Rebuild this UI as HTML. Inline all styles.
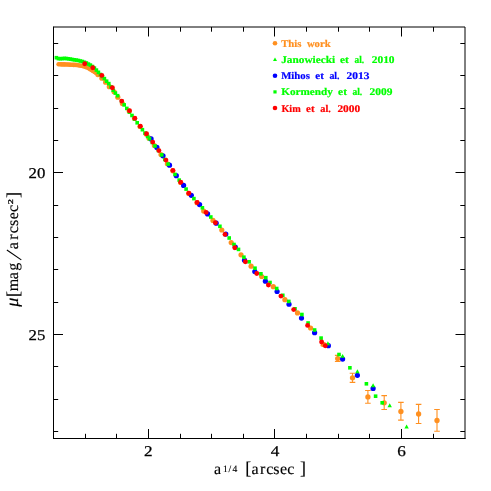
<!DOCTYPE html>
<html><head><meta charset="utf-8"><title>Surface brightness profile</title>
<style>html,body{margin:0;padding:0;background:#fff}body{width:491px;height:491px;overflow:hidden;font-family:"Liberation Sans",sans-serif}svg{display:block;will-change:transform;text-rendering:geometricPrecision}</style>
</head><body>
<svg width="491" height="491" viewBox="0 0 491 491">
<rect width="491" height="491" fill="#fff"/>
<g fill="#ff9020"><circle cx="58.6" cy="64.3" r="2.3"/><circle cx="60.1" cy="64.3" r="2.3"/><circle cx="61.6" cy="64.4" r="2.3"/><circle cx="63.1" cy="64.4" r="2.3"/><circle cx="64.6" cy="64.4" r="2.3"/><circle cx="66.1" cy="64.5" r="2.3"/><circle cx="67.6" cy="64.5" r="2.3"/><circle cx="69.1" cy="64.6" r="2.3"/><circle cx="70.6" cy="64.7" r="2.3"/><circle cx="72.1" cy="64.8" r="2.3"/><circle cx="73.6" cy="64.9" r="2.3"/><circle cx="75.1" cy="64.9" r="2.3"/><circle cx="76.6" cy="65.0" r="2.3"/><circle cx="78.1" cy="65.2" r="2.3"/><circle cx="79.6" cy="65.5" r="2.3"/><circle cx="81.1" cy="65.7" r="2.3"/><circle cx="82.6" cy="66.0" r="2.3"/><circle cx="84.1" cy="66.5" r="2.3"/><circle cx="85.6" cy="67.0" r="2.3"/><circle cx="87.1" cy="67.5" r="2.3"/><circle cx="88.6" cy="68.3" r="2.3"/><circle cx="90.1" cy="69.2" r="2.3"/><circle cx="91.6" cy="70.1" r="2.3"/><circle cx="93.1" cy="71.0" r="2.3"/><circle cx="94.6" cy="72.0" r="2.3"/><circle cx="96.1" cy="72.9" r="2.3"/><circle cx="97.9" cy="74.6" r="2.6"/><circle cx="101.9" cy="78.2" r="2.6"/><circle cx="105.6" cy="82.2" r="2.6"/><circle cx="109.3" cy="86.7" r="2.6"/><circle cx="114.1" cy="91.8" r="2.6"/><circle cx="117.8" cy="97.2" r="2.6"/><circle cx="122.4" cy="103.6" r="2.6"/><circle cx="129.2" cy="111.1" r="2.6"/><circle cx="134.5" cy="118.5" r="2.6"/><circle cx="140.0" cy="126.5" r="2.6"/><circle cx="146.1" cy="134.1" r="2.6"/><circle cx="149.0" cy="138.2" r="2.6"/><circle cx="154.4" cy="145.6" r="2.6"/><circle cx="161.0" cy="154.6" r="2.6"/><circle cx="167.4" cy="163.8" r="2.6"/><circle cx="172.8" cy="170.8" r="2.6"/><circle cx="180.6" cy="182.5" r="2.6"/><circle cx="188.7" cy="193.4" r="2.6"/><circle cx="197.0" cy="202.7" r="2.6"/><circle cx="203.7" cy="211.1" r="2.6"/><circle cx="213.0" cy="220.4" r="2.6"/><circle cx="221.8" cy="230.0" r="2.6"/><circle cx="231.2" cy="242.6" r="2.6"/><circle cx="241.0" cy="254.8" r="2.6"/><circle cx="251.1" cy="266.2" r="2.6"/><circle cx="261.7" cy="276.5" r="2.6"/><circle cx="273.3" cy="286.7" r="2.6"/><circle cx="284.9" cy="299.7" r="2.6"/><circle cx="297.5" cy="312.9" r="2.6"/><circle cx="310.6" cy="328.0" r="2.6"/></g>
<path d="M323.4 343.2V345.6M320.6 343.2h5.6M320.6 345.6h5.6" stroke="#ff9020" stroke-width="1.1" fill="none"/><circle cx="323.4" cy="344.4" r="2.65" fill="#ff9020"/><path d="M337.7 355.4V361.5M334.9 355.4h5.6M334.9 361.5h5.6" stroke="#ff9020" stroke-width="1.1" fill="none"/><circle cx="337.7" cy="358.6" r="2.65" fill="#ff9020"/><path d="M352.5 373.2V382.4M349.7 373.2h5.6M349.7 382.4h5.6" stroke="#ff9020" stroke-width="1.1" fill="none"/><circle cx="352.5" cy="377.8" r="2.65" fill="#ff9020"/><path d="M367.9 390.5V403.2M365.1 390.5h5.6M365.1 403.2h5.6" stroke="#ff9020" stroke-width="1.1" fill="none"/><circle cx="367.9" cy="396.9" r="2.65" fill="#ff9020"/><path d="M384.2 395.6V409.5M381.4 395.6h5.6M381.4 409.5h5.6" stroke="#ff9020" stroke-width="1.1" fill="none"/><circle cx="384.2" cy="402.8" r="2.65" fill="#ff9020"/><path d="M400.9 402.4V420.1M398.1 402.4h5.6M398.1 420.1h5.6" stroke="#ff9020" stroke-width="1.1" fill="none"/><circle cx="400.9" cy="411.5" r="2.65" fill="#ff9020"/><path d="M418.6 404.4V423.5M415.8 404.4h5.6M415.8 423.5h5.6" stroke="#ff9020" stroke-width="1.1" fill="none"/><circle cx="418.6" cy="414.0" r="2.65" fill="#ff9020"/><path d="M437.0 409.5V431.3M434.2 409.5h5.6M434.2 431.3h5.6" stroke="#ff9020" stroke-width="1.1" fill="none"/><circle cx="437.0" cy="420.5" r="2.65" fill="#ff9020"/>
<g fill="#0000ff"><circle cx="151.1" cy="138.9" r="2.6"/><circle cx="156.9" cy="147.4" r="2.6"/><circle cx="163.0" cy="155.8" r="2.6"/><circle cx="169.5" cy="165.2" r="2.6"/><circle cx="176.3" cy="175.7" r="2.6"/><circle cx="183.6" cy="185.4" r="2.6"/><circle cx="191.3" cy="195.3" r="2.6"/><circle cx="199.6" cy="204.6" r="2.6"/><circle cx="207.6" cy="213.9" r="2.6"/><circle cx="216.2" cy="223.2" r="2.6"/><circle cx="225.8" cy="234.1" r="2.6"/><circle cx="235.3" cy="247.1" r="2.6"/><circle cx="244.5" cy="260.2" r="2.6"/><circle cx="254.8" cy="271.6" r="2.6"/><circle cx="265.4" cy="281.2" r="2.6"/><circle cx="277.1" cy="291.5" r="2.6"/><circle cx="289.0" cy="304.2" r="2.6"/><circle cx="301.5" cy="318.1" r="2.6"/><circle cx="314.6" cy="332.7" r="2.6"/><circle cx="328.4" cy="345.7" r="2.6"/><circle cx="342.6" cy="359.1" r="2.6"/><circle cx="357.4" cy="375.3" r="2.6"/><circle cx="373.1" cy="388.4" r="2.6"/></g>
<g fill="#00ff00"><path d="M327.9 341.3l2.2 3.9h-4.4z"/><path d="M342.6 353.9l2.2 3.9h-4.4z"/><path d="M357.4 369.3l2.2 3.9h-4.4z"/><path d="M373.1 383.3l2.2 3.9h-4.4z"/><path d="M389.7 403.3l2.2 3.9h-4.4z"/><path d="M406.6 424.5l2.2 3.9h-4.4z"/></g>
<g fill="#00ff00"><rect x="54.6" y="55.9" width="3.6" height="3.6"/><rect x="56.6" y="56.8" width="3.6" height="3.6"/><rect x="58.6" y="56.9" width="3.6" height="3.6"/><rect x="60.6" y="56.8" width="3.6" height="3.6"/><rect x="62.6" y="56.6" width="3.6" height="3.6"/><rect x="64.6" y="56.7" width="3.6" height="3.6"/><rect x="66.6" y="57.0" width="3.6" height="3.6"/><rect x="68.6" y="57.3" width="3.6" height="3.6"/><rect x="70.6" y="57.7" width="3.6" height="3.6"/><rect x="72.6" y="58.0" width="3.6" height="3.6"/><rect x="74.6" y="58.3" width="3.6" height="3.6"/><rect x="76.6" y="58.7" width="3.6" height="3.6"/><rect x="78.6" y="59.2" width="3.6" height="3.6"/><rect x="80.6" y="59.7" width="3.6" height="3.6"/><rect x="82.6" y="60.5" width="3.6" height="3.6"/><rect x="84.6" y="61.2" width="3.6" height="3.6"/><rect x="86.6" y="62.3" width="3.6" height="3.6"/><rect x="88.6" y="63.3" width="3.6" height="3.6"/><rect x="90.6" y="64.7" width="3.6" height="3.6"/><rect x="92.6" y="66.3" width="3.6" height="3.6"/><rect x="94.6" y="68.3" width="3.6" height="3.6"/><rect x="96.6" y="70.5" width="3.6" height="3.6"/><rect x="98.6" y="72.7" width="3.6" height="3.6"/><rect x="100.6" y="74.7" width="3.6" height="3.6"/><rect x="102.6" y="76.8" width="3.6" height="3.6"/><rect x="104.8" y="79.4" width="3.6" height="3.6"/><rect x="107.0" y="81.8" width="3.6" height="3.6"/><rect x="109.2" y="85.1" width="3.6" height="3.6"/><rect x="111.4" y="88.4" width="3.6" height="3.6"/><rect x="113.6" y="91.3" width="3.6" height="3.6"/><rect x="115.8" y="93.9" width="3.6" height="3.6"/><rect x="119.8" y="99.4" width="3.6" height="3.6"/><rect x="122.4" y="103.1" width="3.6" height="3.6"/><rect x="125.0" y="106.6" width="3.6" height="3.6"/><rect x="127.6" y="110.3" width="3.6" height="3.6"/><rect x="130.2" y="113.7" width="3.6" height="3.6"/><rect x="132.8" y="117.3" width="3.6" height="3.6"/><rect x="135.4" y="121.0" width="3.6" height="3.6"/><rect x="138.0" y="124.5" width="3.6" height="3.6"/><rect x="140.6" y="127.9" width="3.6" height="3.6"/><rect x="143.2" y="131.3" width="3.6" height="3.6"/><rect x="145.8" y="134.6" width="3.6" height="3.6"/><rect x="147.7" y="137.0" width="3.6" height="3.6"/><rect x="150.5" y="140.7" width="3.6" height="3.6"/><rect x="153.2" y="144.2" width="3.6" height="3.6"/><rect x="156.6" y="148.7" width="3.6" height="3.6"/><rect x="159.9" y="153.1" width="3.6" height="3.6"/><rect x="163.1" y="157.7" width="3.6" height="3.6"/><rect x="166.3" y="162.3" width="3.6" height="3.6"/><rect x="173.2" y="172.6" width="3.6" height="3.6"/><rect x="177.4" y="178.3" width="3.6" height="3.6"/><rect x="184.3" y="187.3" width="3.6" height="3.6"/><rect x="192.1" y="196.8" width="3.6" height="3.6"/><rect x="200.6" y="206.0" width="3.6" height="3.6"/><rect x="209.0" y="215.2" width="3.6" height="3.6"/><rect x="218.1" y="224.5" width="3.6" height="3.6"/><rect x="227.4" y="236.2" width="3.6" height="3.6"/><rect x="232.2" y="242.7" width="3.6" height="3.6"/><rect x="236.7" y="247.6" width="3.6" height="3.6"/><rect x="242.1" y="255.4" width="3.6" height="3.6"/><rect x="247.3" y="260.0" width="3.6" height="3.6"/><rect x="253.2" y="266.4" width="3.6" height="3.6"/><rect x="259.1" y="272.0" width="3.6" height="3.6"/><rect x="264.0" y="275.9" width="3.6" height="3.6"/><rect x="268.2" y="280.7" width="3.6" height="3.6"/><rect x="274.9" y="286.7" width="3.6" height="3.6"/><rect x="281.0" y="293.5" width="3.6" height="3.6"/><rect x="287.0" y="299.6" width="3.6" height="3.6"/><rect x="293.2" y="307.0" width="3.6" height="3.6"/><rect x="300.1" y="312.7" width="3.6" height="3.6"/><rect x="306.3" y="321.2" width="3.6" height="3.6"/><rect x="312.8" y="328.2" width="3.6" height="3.6"/><rect x="319.3" y="336.3" width="3.6" height="3.6"/><rect x="337.2" y="352.7" width="3.6" height="3.6"/><rect x="348.1" y="366.0" width="3.6" height="3.6"/><rect x="364.6" y="382.0" width="3.6" height="3.6"/><rect x="373.8" y="394.4" width="3.6" height="3.6"/><rect x="380.4" y="401.0" width="3.6" height="3.6"/></g>
<g fill="#ff0000"><circle cx="84.7" cy="63.8" r="2.45"/><circle cx="92.8" cy="67.7" r="2.45"/><circle cx="101.8" cy="75.4" r="2.45"/><circle cx="112.4" cy="87.7" r="2.45"/><circle cx="121.7" cy="101.1" r="2.45"/><circle cx="129.5" cy="110.8" r="2.45"/><circle cx="134.8" cy="118.2" r="2.45"/><circle cx="140.3" cy="126.2" r="2.45"/><circle cx="146.5" cy="133.7" r="2.45"/><circle cx="152.7" cy="142.1" r="2.45"/><circle cx="158.9" cy="150.6" r="2.45"/><circle cx="165.9" cy="160.1" r="2.45"/><circle cx="172.9" cy="170.4" r="2.45"/><circle cx="180.7" cy="182.3" r="2.45"/><circle cx="188.8" cy="193.2" r="2.45"/><circle cx="197.1" cy="202.5" r="2.45"/><circle cx="206.1" cy="212.4" r="2.45"/><circle cx="215.4" cy="222.8" r="2.45"/><circle cx="225.0" cy="234.4" r="2.45"/><circle cx="234.8" cy="247.8" r="2.45"/><circle cx="245.4" cy="261.8" r="2.45"/><circle cx="256.8" cy="273.5" r="2.45"/><circle cx="268.4" cy="285.0" r="2.45"/><circle cx="280.9" cy="296.1" r="2.45"/><circle cx="293.7" cy="309.6" r="2.45"/><circle cx="307.6" cy="325.4" r="2.45"/><circle cx="321.6" cy="342.0" r="2.45"/><circle cx="325.3" cy="345.8" r="2.45"/></g>
<path d="M53.5 26.5V438.5M53.0 438.5H465.5" stroke="#000" stroke-width="1" fill="none"/>
<path d="M53.5 27.0H465.0V439.0" stroke="#000" stroke-width="1" fill="none"/>
<path d="M85.5 438.5v-4.7M85.5 27.0v4.7M116.5 438.5v-4.7M116.5 27.0v4.7M148.5 438.5v-9.5M148.5 27.0v9.5M180.5 438.5v-4.7M180.5 27.0v4.7M211.5 438.5v-4.7M211.5 27.0v4.7M243.5 438.5v-4.7M243.5 27.0v4.7M274.5 438.5v-9.5M274.5 27.0v9.5M306.5 438.5v-4.7M306.5 27.0v4.7M338.5 438.5v-4.7M338.5 27.0v4.7M369.5 438.5v-4.7M369.5 27.0v4.7M401.5 438.5v-9.5M401.5 27.0v9.5M433.5 438.5v-4.7M433.5 27.0v4.7M53.5 43.5h4.7M465.0 43.5h-4.7M53.5 75.5h4.7M465.0 75.5h-4.7M53.5 108.5h4.7M465.0 108.5h-4.7M53.5 140.5h4.7M465.0 140.5h-4.7M53.5 172.5h9.5M465.0 172.5h-9.5M53.5 205.5h4.7M465.0 205.5h-4.7M53.5 237.5h4.7M465.0 237.5h-4.7M53.5 269.5h4.7M465.0 269.5h-4.7M53.5 302.5h4.7M465.0 302.5h-4.7M53.5 334.5h9.5M465.0 334.5h-9.5M53.5 366.5h4.7M465.0 366.5h-4.7M53.5 399.5h4.7M465.0 399.5h-4.7M53.5 431.5h4.7M465.0 431.5h-4.7" stroke="#000" stroke-width="1" fill="none"/>
<text x="148.4" y="455.9" font-size="15" text-anchor="middle" textLength="8.6" lengthAdjust="spacingAndGlyphs" stroke="#000" stroke-width="0.25" font-family="Liberation Serif, serif">2</text>
<text x="275.0" y="455.9" font-size="15" text-anchor="middle" textLength="8.6" lengthAdjust="spacingAndGlyphs" stroke="#000" stroke-width="0.25" font-family="Liberation Serif, serif">4</text>
<text x="401.5" y="455.9" font-size="15" text-anchor="middle" textLength="8.6" lengthAdjust="spacingAndGlyphs" stroke="#000" stroke-width="0.25" font-family="Liberation Serif, serif">6</text>
<text x="45.3" y="177.8" font-size="15" text-anchor="end" textLength="16.8" lengthAdjust="spacingAndGlyphs" stroke="#000" stroke-width="0.25" font-family="Liberation Serif, serif">20</text>
<text x="45.3" y="339.6" font-size="15" text-anchor="end" textLength="16.8" lengthAdjust="spacingAndGlyphs" stroke="#000" stroke-width="0.25" font-family="Liberation Serif, serif">25</text>
<text x="214.00" y="473.9" font-size="16" stroke="#000" stroke-width="0.15" font-family="Liberation Serif, serif" >a</text>
<text x="251.40 259.90 266.20 273.30 280.10 287.20" y="473.9" font-size="16" stroke="#000" stroke-width="0.15" font-family="Liberation Serif, serif" >arcsec</text>
<text x="245.20 299.90" y="474.3" font-size="18" stroke="#000" stroke-width="0.15" font-family="Liberation Serif, serif" >[]</text>
<text x="223.10 228.60 232.60" y="472.4" font-size="9.6" stroke="#000" stroke-width="0.15" font-family="Liberation Serif, serif" stroke-width="0.3">1/4</text>
<g transform="translate(18.3 306.8) rotate(-90)"><text x="0" y="0" font-size="18" font-style="italic" stroke="#000" stroke-width="0.15" font-family="Liberation Serif, serif">μ</text><text x="9.90 108.80" y="0.4" font-size="18" stroke="#000" stroke-width="0.15" font-family="Liberation Serif, serif" >[]</text><text x="15.55 27.60 36.10 57.60 67.05 73.50 80.80 87.60 94.90" y="0" font-size="16" stroke="#000" stroke-width="0.15" font-family="Liberation Serif, serif" >magarcsec</text><path d="M46.9 3.0L56.8 -11.4" stroke="#000" stroke-width="1.1" fill="none"/><text x="102.5" y="-5.6" font-size="7.2" textLength="5.2" lengthAdjust="spacingAndGlyphs" stroke="#000" stroke-width="0.3" font-family="Liberation Serif, serif">2</text></g>
<circle cx="275" cy="43.2" r="2.3" fill="#ff9020"/>
<text x="281.2" y="46.7" font-size="10.2" font-weight="bold" fill="#ff9020" stroke="#ff9020" stroke-width="0.2" textLength="20.2" lengthAdjust="spacingAndGlyphs" font-family="Liberation Serif, serif">This</text>
<text x="306.9" y="46.7" font-size="10.2" font-weight="bold" fill="#ff9020" stroke="#ff9020" stroke-width="0.2" textLength="23.7" lengthAdjust="spacingAndGlyphs" font-family="Liberation Serif, serif">work</text>
<path d="M275 57.4l2 3.7h-4z" fill="#00ff00"/>
<text x="281.2" y="63.0" font-size="10.2" font-weight="bold" fill="#00ff00" stroke="#00ff00" stroke-width="0.2" textLength="53.9" lengthAdjust="spacingAndGlyphs" font-family="Liberation Serif, serif">Janowiecki</text>
<text x="340.0" y="63.0" font-size="10.2" font-weight="bold" fill="#00ff00" stroke="#00ff00" stroke-width="0.2" textLength="8.8" lengthAdjust="spacingAndGlyphs" font-family="Liberation Serif, serif">et</text>
<text x="354.5" y="63.0" font-size="10.2" font-weight="bold" fill="#00ff00" stroke="#00ff00" stroke-width="0.2" textLength="9.7" lengthAdjust="spacingAndGlyphs" font-family="Liberation Serif, serif">al.</text>
<text x="371.7" y="63.0" font-size="10.2" font-weight="bold" fill="#00ff00" stroke="#00ff00" stroke-width="0.2" textLength="22.9" lengthAdjust="spacingAndGlyphs" font-family="Liberation Serif, serif">2010</text>
<circle cx="275" cy="75.8" r="2.3" fill="#0000ff"/>
<text x="281.2" y="79.3" font-size="10.2" font-weight="bold" fill="#0000ff" stroke="#0000ff" stroke-width="0.2" textLength="28.7" lengthAdjust="spacingAndGlyphs" font-family="Liberation Serif, serif">Mihos</text>
<text x="315.3" y="79.3" font-size="10.2" font-weight="bold" fill="#0000ff" stroke="#0000ff" stroke-width="0.2" textLength="8.6" lengthAdjust="spacingAndGlyphs" font-family="Liberation Serif, serif">et</text>
<text x="329.4" y="79.3" font-size="10.2" font-weight="bold" fill="#0000ff" stroke="#0000ff" stroke-width="0.2" textLength="10.2" lengthAdjust="spacingAndGlyphs" font-family="Liberation Serif, serif">al.</text>
<text x="346.6" y="79.3" font-size="10.2" font-weight="bold" fill="#0000ff" stroke="#0000ff" stroke-width="0.2" textLength="22.9" lengthAdjust="spacingAndGlyphs" font-family="Liberation Serif, serif">2013</text>
<rect x="273.4" y="90.30000000000001" width="3.2" height="3.2" fill="#00ff00"/>
<text x="281.2" y="95.4" font-size="10.2" font-weight="bold" fill="#00ff00" stroke="#00ff00" stroke-width="0.2" textLength="51.7" lengthAdjust="spacingAndGlyphs" font-family="Liberation Serif, serif">Kormendy</text>
<text x="338.1" y="95.4" font-size="10.2" font-weight="bold" fill="#00ff00" stroke="#00ff00" stroke-width="0.2" textLength="8.9" lengthAdjust="spacingAndGlyphs" font-family="Liberation Serif, serif">et</text>
<text x="352.4" y="95.4" font-size="10.2" font-weight="bold" fill="#00ff00" stroke="#00ff00" stroke-width="0.2" textLength="9.9" lengthAdjust="spacingAndGlyphs" font-family="Liberation Serif, serif">al.</text>
<text x="369.6" y="95.4" font-size="10.2" font-weight="bold" fill="#00ff00" stroke="#00ff00" stroke-width="0.2" textLength="22.9" lengthAdjust="spacingAndGlyphs" font-family="Liberation Serif, serif">2009</text>
<circle cx="275" cy="108.0" r="2.3" fill="#ff0000"/>
<text x="281.4" y="111.5" font-size="10.2" font-weight="bold" fill="#ff0000" stroke="#ff0000" stroke-width="0.2" textLength="19.3" lengthAdjust="spacingAndGlyphs" font-family="Liberation Serif, serif">Kim</text>
<text x="306.1" y="111.5" font-size="10.2" font-weight="bold" fill="#ff0000" stroke="#ff0000" stroke-width="0.2" textLength="8.5" lengthAdjust="spacingAndGlyphs" font-family="Liberation Serif, serif">et</text>
<text x="320.3" y="111.5" font-size="10.2" font-weight="bold" fill="#ff0000" stroke="#ff0000" stroke-width="0.2" textLength="10.6" lengthAdjust="spacingAndGlyphs" font-family="Liberation Serif, serif">al.</text>
<text x="337.4" y="111.5" font-size="10.2" font-weight="bold" fill="#ff0000" stroke="#ff0000" stroke-width="0.2" textLength="22.8" lengthAdjust="spacingAndGlyphs" font-family="Liberation Serif, serif">2000</text>
</svg>
</body></html>
